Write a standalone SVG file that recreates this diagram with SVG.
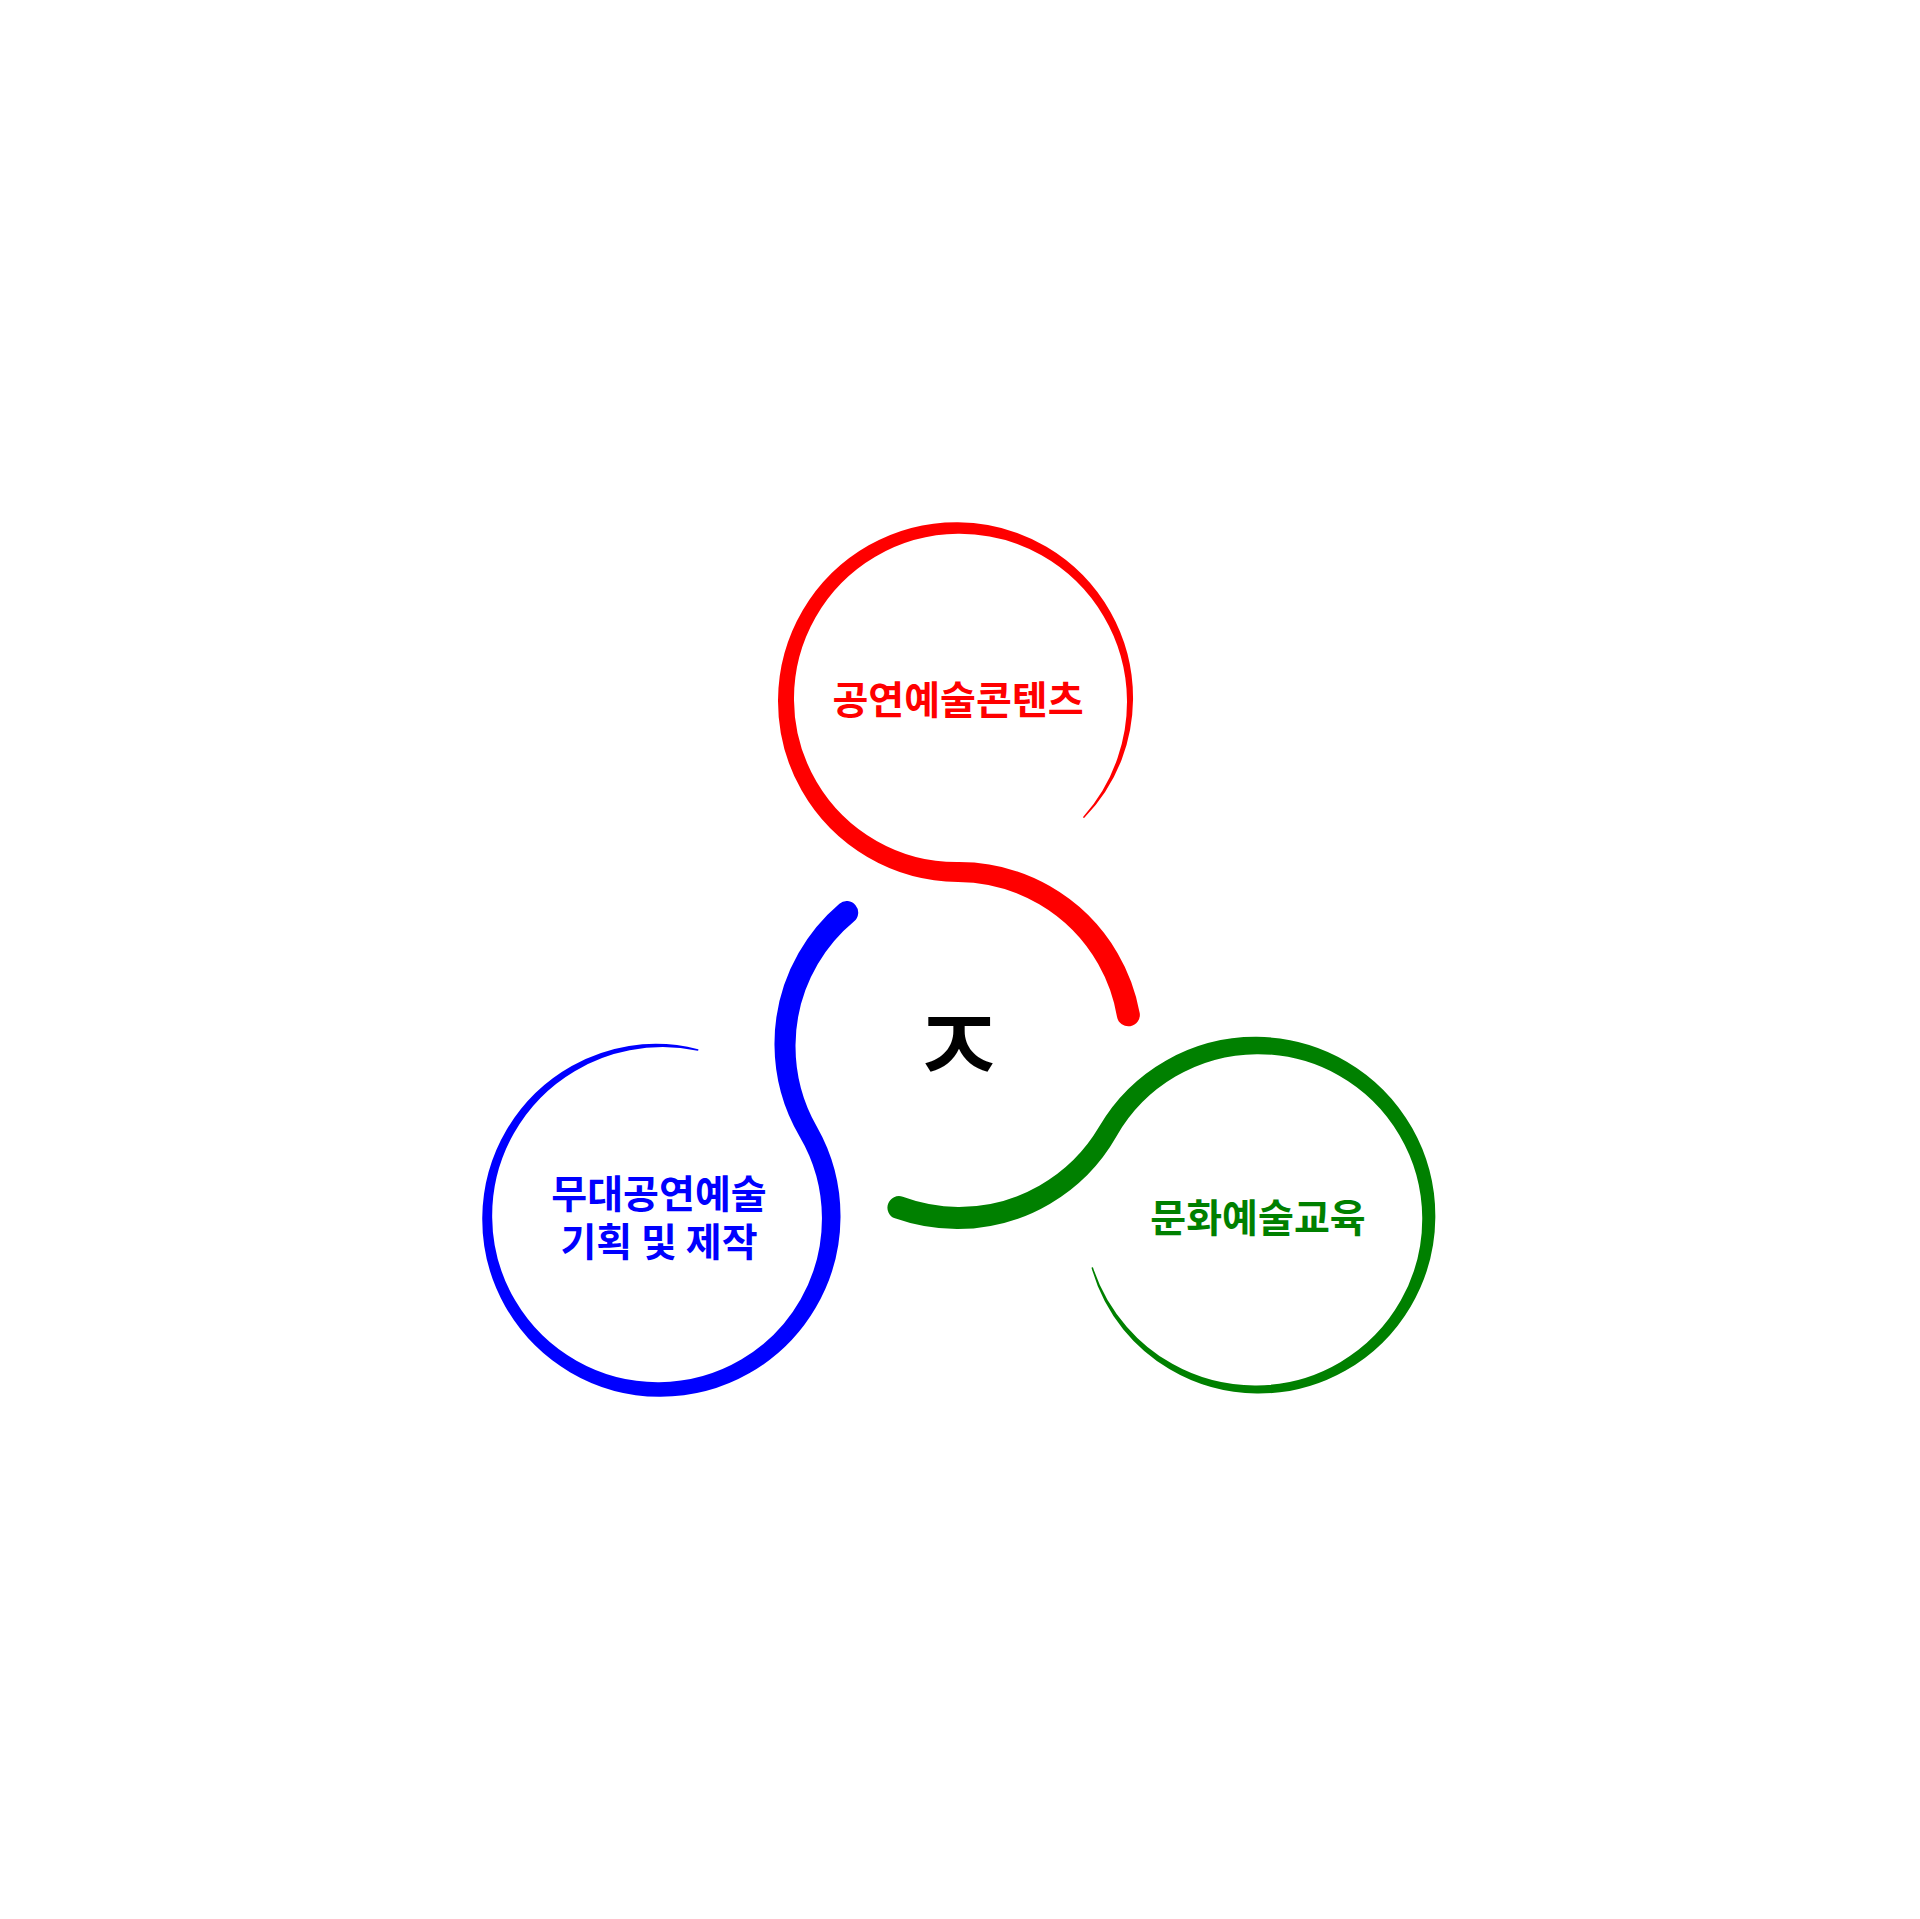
<svg xmlns="http://www.w3.org/2000/svg" xmlns:xlink="http://www.w3.org/1999/xlink" width="1920" height="1919" viewBox="0 0 1920 1919">
<style>
.lbl{font-family:"Noto Sans CJK KR","Noto Sans CJK SC",sans-serif;font-weight:700;font-size:39px;text-anchor:middle}
.core{font-family:"Noto Sans CJK KR","Noto Sans CJK SC",sans-serif;font-weight:500;font-size:108px;text-anchor:middle;fill:#000}
</style>
<defs>
<path id="petal" d="M 1084.35 817.82
A 173.5 173.5 0 0 0 1121.72 759.58
A 174.6 174.6 0 0 0 1133.03 700
A 175.5 175.5 0 0 0 1110.47 611.97
A 176.5 176.5 0 0 0 1046.48 546.75
A 177.4 177.4 0 0 0 958 522.22
A 178.2 178.2 0 0 0 868.72 545.37
A 178.9 178.9 0 0 0 802.74 610.36
A 179.6 179.6 0 0 0 778.02 700
A 180.3 180.3 0 0 0 801.56 790.32
A 181 181 0 0 0 867.35 857
A 181.6 181.6 0 0 0 958 881.91
A 162.8 162.8 0 0 1 1039.24 904.29
A 162.2 162.2 0 0 1 1098.19 964.06
A 161.7 161.7 0 0 1 1117.05 1016.96
A 11.5 11.5 0 0 0 1139.7 1012.97
A 184.3 184.3 0 0 0 1117.45 952.94
A 183.8 183.8 0 0 0 1049.76 886.07
A 183.2 183.2 0 0 0 958 862.09
A 162.4 162.4 0 0 1 876.64 840.91
A 163 163 0 0 1 816.53 781.68
A 163.7 163.7 0 0 1 793.98 700
A 164.4 164.4 0 0 1 815.35 617.64
A 165.1 165.1 0 0 1 875.27 556.72
A 165.8 165.8 0 0 1 958 533.78
A 166.6 166.6 0 0 1 1041.52 555.34
A 167.5 167.5 0 0 1 1103.44 616.03
A 168.5 168.5 0 0 1 1126.97 700
A 169.4 169.4 0 0 1 1117.54 758.07
A 170.5 170.5 0 0 1 1083.25 816.79
A 0.8 0.8 0 0 0 1084.35 817.82 Z"/>
</defs>
<rect width="1920" height="1919" fill="#fff"/>
<g id="connectors"></g>
<g id="node-content">
<use xlink:href="#petal" href="#petal" fill="#ff0000"/>
<text class="lbl" x="958" y="714" fill="#ff0000">공연예술콘텐츠</text>
</g>
<g id="node-stage">
<use xlink:href="#petal" href="#petal" fill="#0000ff" transform="rotate(240 958 1045)"/>
<text class="lbl" x="659" y="1208" fill="#0000ff">무대공연예술</text>
<text class="lbl" x="659" y="1256" fill="#0000ff">기획 및 제작</text>
</g>
<g id="node-education">
<use xlink:href="#petal" href="#petal" fill="#008000" transform="rotate(120 958 1045)"/>
<text class="lbl" x="1258" y="1232" fill="#008000">문화예술교육</text>
</g>
<g id="node-center">
<text class="core" x="958.5" y="1085">ㅈ</text>
</g>
</svg>
